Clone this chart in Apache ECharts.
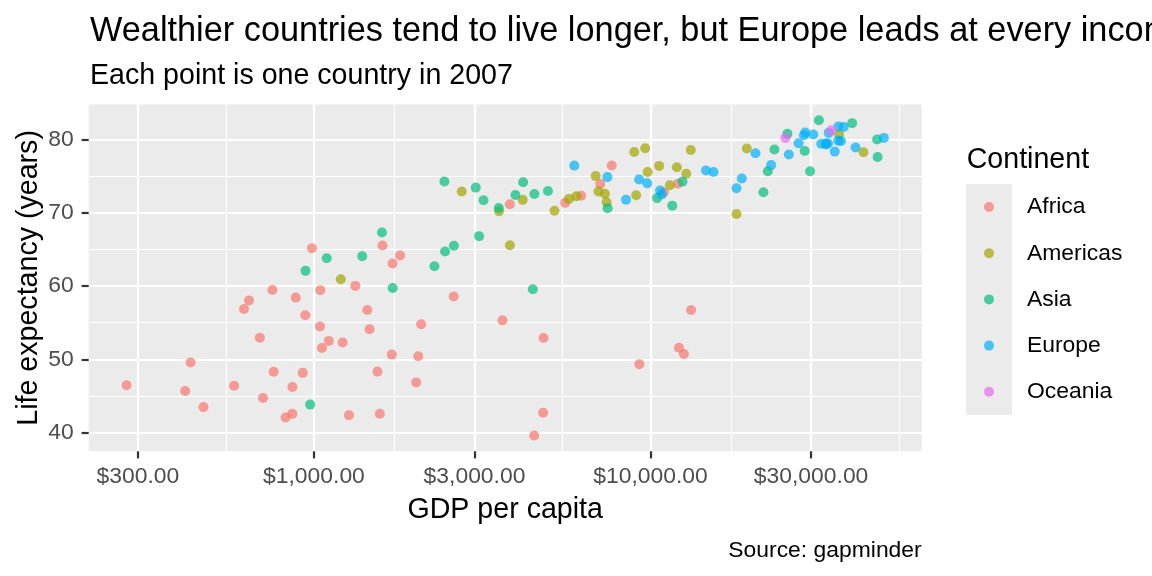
<!DOCTYPE html>
<html>
<head>
<meta charset="utf-8">
<script src="https://cdn.jsdelivr.net/npm/echarts@6/dist/echarts.min.js"></script>
<style>
html, body { margin: 0; padding: 0; background: #fff; }
#chart { width: 1152px; height: 576px; }
</style>
</head>
<body>
<div id="chart"></div>
<script>
// gapminder, 2007 -- each row is [gdpPercap, lifeExp]
var continents = ['Africa', 'Americas', 'Asia', 'Europe', 'Oceania'];
var colors = ['#F8766D', '#A3A500', '#00BF7D', '#00B0F6', '#E76BF3'];

var africa = [
    [6223.37, 72.30], [4797.23, 42.73], [1441.28, 56.73], [12569.85, 50.73], [1217.03, 52.30],
    [430.07, 49.58], [2042.10, 50.43], [706.02, 44.74], [1704.06, 50.65], [986.15, 65.15],
    [277.55, 46.46], [3632.56, 55.32], [1544.75, 48.33], [2082.48, 54.79], [5581.18, 71.34],
    [12154.09, 51.58], [641.37, 58.04], [690.81, 52.95], [13206.48, 56.74], [752.75, 59.45],
    [1327.61, 60.02], [942.65, 56.01], [579.23, 46.39], [1463.25, 54.11], [1569.33, 42.59],
    [414.51, 45.68], [12057.50, 73.95], [1044.77, 59.44], [759.35, 48.30], [1042.58, 54.47],
    [1803.15, 64.16], [10956.99, 72.80], [3820.18, 71.16], [823.69, 42.08], [4811.06, 52.91],
    [619.68, 56.87], [2013.98, 46.86], [7670.12, 76.44], [863.09, 46.24], [1598.44, 65.53],
    [1712.47, 63.06], [862.54, 42.57], [926.14, 48.16], [9269.66, 49.34], [2602.39, 58.56],
    [4513.48, 39.61], [1107.48, 52.52], [882.97, 58.42], [7092.92, 73.92], [1056.38, 51.54],
    [1271.21, 42.38], [469.71, 43.49]
];
var americas = [
    [12779.38, 75.32], [3822.14, 65.55], [9065.80, 72.39], [36319.24, 80.65], [13171.64, 78.55],
    [7006.58, 72.89], [9645.06, 78.78], [8948.10, 78.27], [6025.37, 72.24], [6873.26, 74.99],
    [5728.35, 71.88], [5186.05, 70.26], [1201.64, 60.92], [3548.33, 70.20], [7320.88, 72.57],
    [11977.57, 76.20], [2749.32, 72.90], [9809.19, 75.54], [4172.84, 71.75], [7408.91, 71.42],
    [19328.71, 78.75], [18008.51, 69.82], [42951.65, 78.24], [10611.46, 76.38], [11415.81, 73.75]
];
var asia = [
    [974.58, 43.83], [29796.05, 75.64], [1391.25, 64.06], [1713.78, 59.72], [4959.11, 72.96],
    [39724.98, 82.21], [2452.21, 64.70], [3540.65, 70.65], [11605.71, 70.96], [4471.06, 59.55],
    [25523.28, 80.75], [31656.07, 82.60], [4519.46, 72.54], [1593.07, 67.30], [23348.14, 78.62],
    [47306.99, 77.59], [10461.06, 71.99], [12451.66, 74.24], [3095.77, 66.80], [944.00, 62.07],
    [1091.36, 63.79], [22316.19, 75.64], [2605.95, 65.48], [3190.48, 71.69], [21654.83, 72.78],
    [47143.18, 79.97], [3970.10, 72.40], [4184.55, 74.14], [28718.28, 78.40], [7458.40, 70.62],
    [2441.58, 74.25], [3025.35, 73.42], [2280.77, 62.70]
];
var europe = [
    [5937.03, 76.42], [36126.49, 79.83], [33692.61, 79.44], [7446.30, 74.85], [10680.79, 73.01],
    [14619.22, 75.75], [22833.31, 76.49], [35278.42, 78.33], [33207.08, 79.31], [30470.02, 80.66],
    [32170.37, 79.41], [27538.41, 79.48], [18008.94, 73.34], [36180.79, 81.76], [40676.00, 78.89],
    [28569.72, 80.55], [9253.90, 74.54], [36797.93, 79.76], [49357.19, 80.20], [15389.92, 75.56],
    [20509.65, 78.10], [10808.48, 72.48], [9786.53, 74.00], [18678.31, 74.66], [25768.26, 77.93],
    [28821.06, 80.94], [33859.75, 80.88], [37506.42, 81.70], [8458.28, 71.78], [33203.26, 79.43]
];
var oceania = [
    [34435.37, 81.24], [25185.01, 80.20]
];

var xBreaks = [300, 1000, 3000, 10000, 30000];
var xMinorBreaks = [547.7, 1732.1, 5477.2, 17320.5, 54772.3];
var yBreaks = [40, 50, 60, 70, 80];
var yMinorBreaks = [45, 55, 65, 75];

var font = '"Liberation Sans", Arial, sans-serif';
var chart = echarts.init(document.getElementById('chart'));

function dollar(v) {
    return '$' + Number(v).toLocaleString('en-US', {minimumFractionDigits: 2, maximumFractionDigits: 2});
}

var groups = [africa, americas, asia, europe, oceania];
var series = [];
for (var i = 0; i < groups.length; i++) {
    series.push({
        name: continents[i],
        type: 'scatter',
        data: groups[i],
        symbolSize: 10,
        itemStyle: {color: colors[i], opacity: 0.7},
        emphasis: {disabled: true}
    });
}

var option = {
    backgroundColor: '#fff',
    animation: false,
    color: colors,
    textStyle: {fontFamily: font},
    title: [
        {
            text: 'Wealthier countries tend to live longer, but Europe leads at every income level',
            left: 90, top: 14.3, padding: 0,
            textStyle: {fontSize: 34.3, fontWeight: 'normal', color: '#000', fontFamily: font}
        },
        {
            text: 'Each point is one country in 2007',
            left: 90, top: 61.3, padding: 0,
            textStyle: {fontSize: 28.6, fontWeight: 'normal', color: '#000', fontFamily: font}
        },
        {
            text: 'Continent',
            left: 966.7, top: 145.5, padding: 0,
            textStyle: {fontSize: 28.6, fontWeight: 'normal', color: '#000', fontFamily: font}
        },
        {
            text: 'Source: gapminder',
            right: 230.3, top: 539, padding: 0,
            textStyle: {fontSize: 22.9, fontWeight: 'normal', color: '#000', fontFamily: font}
        }
    ],
    grid: {
        left: 88.7, right: 230.3, top: 104.5, bottom: 124.7,
        show: true, backgroundColor: '#EBEBEB', borderWidth: 0,
        containLabel: false, outerBoundsMode: 'none'
    },
    legend: {
        data: continents,
        orient: 'vertical',
        left: 984, top: 184, padding: 0,
        itemWidth: 46, itemHeight: 10, itemGap: 0.2,
        icon: 'circle',
        selectedMode: false,
        itemStyle: {opacity: 0.7, borderWidth: 0},
        textStyle: {fontSize: 22.9, color: '#000', fontFamily: font, lineHeight: 39, padding: [7, 0, 0, 10]}
    },
    graphic: [
        {
            type: 'rect', left: 966, top: 184, z: 0, silent: true,
            shape: {width: 46, height: 231},
            style: {fill: '#EBEBEB'}
        }
    ],
    xAxis: [
        {
            type: 'log', min: 214.2, max: 63953,
            name: 'GDP per capita', nameLocation: 'middle', nameGap: 44, nameMoveOverlap: false,
            nameTextStyle: {fontSize: 28.6, color: '#000', fontFamily: font},
            axisLine: {show: false},
            axisTick: {show: true, customValues: xBreaks, length: 7.1, lineStyle: {color: '#333333', width: 2.2}},
            axisLabel: {customValues: xBreaks, formatter: dollar, margin: 14.2, fontSize: 22.9, color: '#4D4D4D', fontFamily: font},
            splitLine: {show: true, lineStyle: {color: '#fff', width: 2.2}},
            minorSplitLine: {show: false}
        },
        {
            type: 'log', min: 214.2, max: 63953, gridIndex: 0,
            axisLine: {show: false},
            axisTick: {show: false, customValues: xMinorBreaks},
            axisLabel: {show: false, customValues: xMinorBreaks},
            splitLine: {show: true, lineStyle: {color: '#fff', width: 1.1}}
        }
    ],
    yAxis: [
        {
            type: 'value', min: 37.4635, max: 84.7525,
            name: 'Life expectancy (years)', nameLocation: 'middle', nameGap: 45.5, nameMoveOverlap: false,
            nameTextStyle: {fontSize: 28.6, color: '#000', fontFamily: font},
            axisLine: {show: false},
            axisTick: {show: true, customValues: yBreaks, length: 7.1, lineStyle: {color: '#333333', width: 2.2}},
            axisLabel: {customValues: yBreaks, margin: 15, fontSize: 22.9, color: '#4D4D4D', fontFamily: font},
            splitLine: {show: true, lineStyle: {color: '#fff', width: 2.2}}
        },
        {
            type: 'value', min: 37.4635, max: 84.7525, gridIndex: 0,
            axisLine: {show: false},
            axisTick: {show: false, customValues: yMinorBreaks},
            axisLabel: {show: false, customValues: yMinorBreaks},
            splitLine: {show: true, lineStyle: {color: '#fff', width: 1.1}}
        }
    ],
    series: series
};

chart.setOption(option);
</script>
</body>
</html>
